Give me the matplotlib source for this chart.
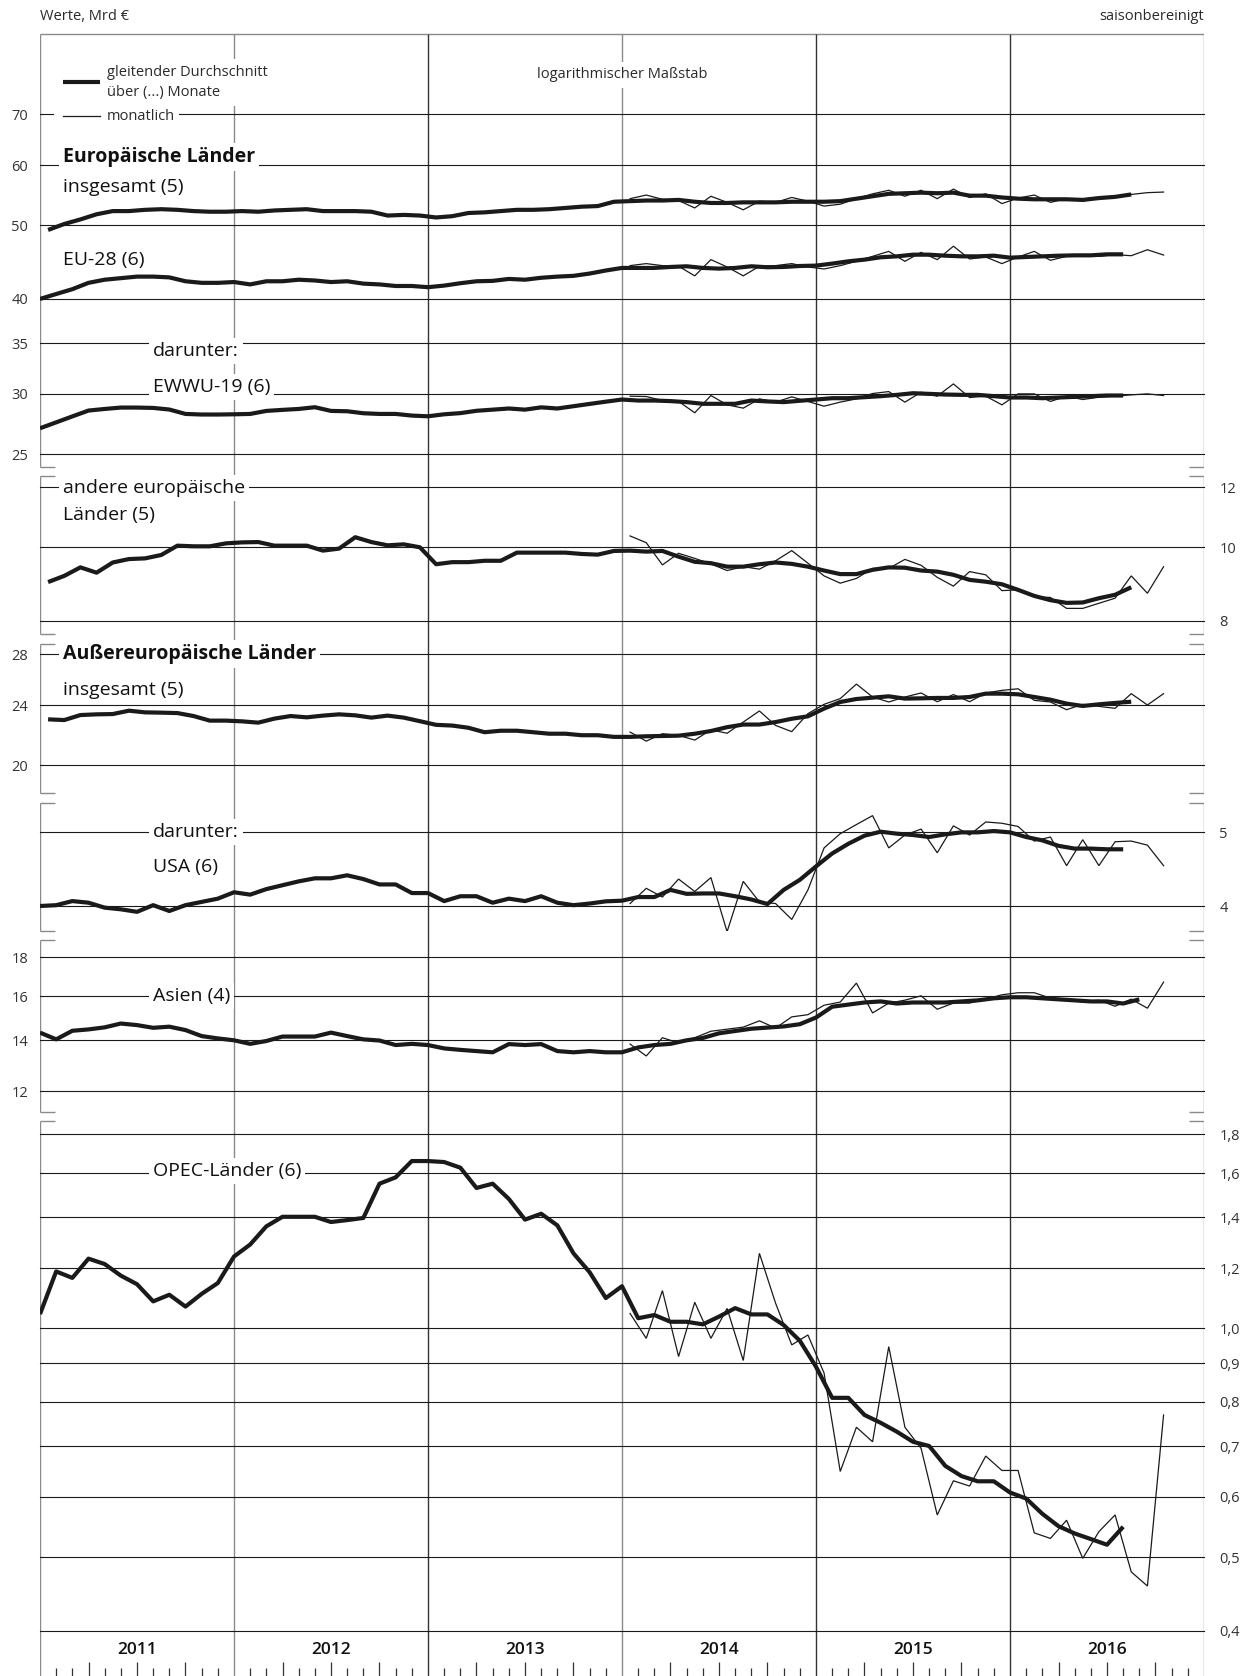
import numpy as np
import matplotlib
matplotlib.use("Agg")
import matplotlib.pyplot as plt
from matplotlib.ticker import NullLocator, FixedLocator, FixedFormatter
from matplotlib.patches import Rectangle

plt.rcParams['font.family'] = ['Open Sans', 'DejaVu Sans']

# ---------------- data (Mrd €) ----------------
years = ['2011', '2012', '2013', '2014', '2015', '2016']

# Europäische Länder insgesamt, gleitender Durchschnitt über 5 Monate (Jan 2011 ...)
eu_ges_ma = [49.3, 50.2, 50.9, 51.7, 52.2, 52.2, 52.4, 52.5, 52.4, 52.2, 52.1, 52.1,
             52.2, 52.1, 52.3, 52.4, 52.5, 52.2, 52.2, 52.2, 52.1, 51.5, 51.6,
             51.5, 51.2, 51.4, 51.9, 52.0, 52.2, 52.4, 52.4, 52.5, 52.7, 52.9, 53.0,
             53.7, 53.8, 53.9, 53.9, 54.0, 53.7, 53.5, 53.5, 53.6, 53.6, 53.6, 53.7,
             53.7, 53.7, 53.8, 54.2, 54.6, 55.0, 55.1, 55.2, 55.1, 55.2, 54.7, 54.7,
             54.4, 54.2, 54.1, 54.1, 54.1, 54.0, 54.3, 54.5, 54.9]
# monatliche Werte Jan 2014 ... Okt 2016
eu_ges_m = [54.2, 54.8, 54.1, 53.9, 52.7, 54.6, 53.6, 52.4, 53.8, 53.6, 54.4, 53.8,
            53.0, 53.3, 54.2, 55.0, 55.6, 54.6, 55.6, 54.2, 55.8, 54.4, 55.0, 53.4,
            54.3, 54.8, 53.6, 54.2, 53.8, 54.3, 54.6, 54.9, 55.2, 55.3]

# EU-28, gleitender Durchschnitt über 6 Monate
eu28_ma = [40.0, 40.6, 41.2, 42.0, 42.4, 42.6, 42.8, 42.8, 42.7, 42.2, 42.0, 42.0,
           42.1, 41.8, 42.2, 42.2, 42.4, 42.3, 42.1, 42.2, 41.9, 41.8, 41.6, 41.6,
           41.45, 41.65, 41.95, 42.2, 42.25, 42.5, 42.4, 42.65, 42.8, 42.9, 43.2, 43.6,
           43.94, 43.94, 43.94, 44.07, 44.16, 43.94, 43.85, 43.94, 44.16, 44.03, 44.07, 44.2,
           44.25, 44.52, 44.83, 45.06, 45.38, 45.51, 45.74, 45.74, 45.6, 45.51, 45.51, 45.6,
           45.33, 45.42, 45.51, 45.6, 45.65, 45.65, 45.79, 45.79]
eu28_m = [44.25, 44.52, 44.25, 44.16, 42.9, 45.06, 44.07, 42.9, 44.16, 44.25, 44.52, 44.07,
          43.8, 44.25, 44.83, 45.51, 46.2, 44.83, 46.06, 45.06, 46.93, 45.15, 45.42, 44.52,
          45.42, 46.2, 44.97, 45.51, 45.51, 45.51, 45.74, 45.6, 46.43, 45.69]

# EWWU-19, gleitender Durchschnitt über 6 Monate
ewwu_ma = [27.03, 27.52, 28.02, 28.52, 28.66, 28.78, 28.78, 28.75, 28.61, 28.23, 28.18, 28.18,
           28.2, 28.23, 28.49, 28.58, 28.66, 28.81, 28.49, 28.46, 28.29, 28.23, 28.23, 28.09,
           28.03, 28.2, 28.3, 28.5, 28.6, 28.7, 28.6, 28.8, 28.7, 28.9, 29.1, 29.3,
           29.49, 29.4, 29.4, 29.35, 29.26, 29.11, 29.11, 29.11, 29.4, 29.32, 29.26, 29.38,
           29.49, 29.61, 29.61, 29.7, 29.79, 29.91, 30.06, 30.0, 29.94, 29.91, 29.91, 29.79,
           29.67, 29.67, 29.61, 29.67, 29.73, 29.79, 29.85, 29.85]
ewwu_m = [29.79, 29.76, 29.4, 29.32, 28.33, 29.85, 29.02, 28.73, 29.55, 29.26, 29.73, 29.32,
          28.9, 29.26, 29.55, 30.03, 30.21, 29.26, 30.15, 29.79, 30.92, 29.67, 29.79, 29.02,
          30.0, 30.0, 29.32, 29.79, 29.49, 29.7, 29.79, 29.91, 30.0, 29.85]

# andere europäische Länder, gleitender Durchschnitt über 5 Monate
andere_ma = [9.0, 9.17, 9.41, 9.26, 9.55, 9.65, 9.67, 9.77, 10.05, 10.03, 10.03, 10.12,
             10.15, 10.16, 10.05, 10.05, 10.05, 9.9, 9.96, 10.31, 10.16, 10.06, 10.09,
             10.0, 9.5, 9.56, 9.56, 9.6, 9.6, 9.84, 9.84, 9.84, 9.84, 9.8, 9.78,
             9.89, 9.9, 9.87, 9.89, 9.72, 9.57, 9.53, 9.43, 9.43, 9.5, 9.55, 9.51,
             9.43, 9.32, 9.22, 9.22, 9.34, 9.41, 9.4, 9.32, 9.29, 9.2, 9.06, 9.01,
             8.94, 8.79, 8.63, 8.52, 8.45, 8.46, 8.57, 8.66, 8.86]
andere_m = [10.35, 10.14, 9.48, 9.82, 9.67, 9.51, 9.32, 9.43, 9.36, 9.6, 9.9, 9.53,
            9.17, 8.97, 9.1, 9.38, 9.38, 9.64, 9.47, 9.13, 8.89, 9.29, 9.2, 8.77,
            8.79, 8.61, 8.59, 8.31, 8.31, 8.44, 8.57, 9.17, 8.7, 9.43]

# Außereuropäische Länder insgesamt, gleitender Durchschnitt über 5 Monate
aus_ma = [22.98, 22.93, 23.28, 23.33, 23.35, 23.59, 23.47, 23.45, 23.42, 23.21, 22.89, 22.89,
          22.84, 22.75, 23.03, 23.21, 23.12, 23.24, 23.33, 23.26, 23.1, 23.24, 23.1,
          22.85, 22.6, 22.55, 22.4, 22.1, 22.2, 22.2, 22.1, 22.0, 22.0, 21.9, 21.9,
          21.79, 21.79, 21.83, 21.85, 21.87, 22.0, 22.18, 22.44, 22.62, 22.62, 22.79, 23.02,
          23.19, 23.74, 24.22, 24.44, 24.54, 24.64, 24.47, 24.49, 24.52, 24.52, 24.59, 24.84,
          24.84, 24.79, 24.59, 24.39, 24.1, 23.93, 24.05, 24.15, 24.24]
aus_m = [22.11, 21.51, 22.0, 21.89, 21.58, 22.26, 22.03, 22.79, 23.57, 22.56, 22.14, 23.38,
         24.05, 24.47, 25.57, 24.59, 24.22, 24.59, 24.89, 24.24, 24.77, 24.24, 24.89, 25.09,
         25.21, 24.34, 24.22, 23.66, 24.05, 23.9, 23.76, 24.84, 24.0, 24.84]

# USA, gleitender Durchschnitt über 6 Monate
usa_ma = [4.0, 4.01, 4.06, 4.04, 3.98, 3.96, 3.93, 4.01, 3.94, 4.01, 4.05, 4.09,
          4.17, 4.14, 4.21, 4.26, 4.31, 4.35, 4.35, 4.39, 4.34, 4.27, 4.27, 4.16,
          4.16, 4.06, 4.12, 4.12, 4.04, 4.09, 4.06, 4.12, 4.04, 4.01, 4.03,
          4.057, 4.065, 4.11, 4.11, 4.2, 4.15, 4.155, 4.155, 4.12, 4.08, 4.024, 4.2,
          4.33, 4.51, 4.69, 4.83, 4.95, 5.01, 4.98, 4.96, 4.93, 4.97, 5.0, 5.0,
          5.02, 5.0, 4.93, 4.88, 4.8, 4.76, 4.76, 4.75, 4.75]
usa_m = [4.03, 4.22, 4.11, 4.34, 4.18, 4.36, 3.7, 4.31, 4.05, 4.03, 3.84, 4.2,
         4.77, 4.98, 5.12, 5.26, 4.77, 4.96, 5.05, 4.7, 5.1, 4.96, 5.16, 5.14,
         5.09, 4.87, 4.93, 4.52, 4.89, 4.52, 4.86, 4.87, 4.81, 4.52]

# Asien, gleitender Durchschnitt über 4 Monate
asien_ma = [14.33, 14.04, 14.41, 14.47, 14.56, 14.73, 14.66, 14.54, 14.59, 14.44, 14.18, 14.08,
            14.0, 13.85, 13.97, 14.16, 14.16, 14.16, 14.33, 14.18, 14.04, 13.99, 13.8, 13.85,
            13.8, 13.66, 13.6, 13.55, 13.5, 13.84, 13.8, 13.84, 13.55, 13.5, 13.55, 13.5,
            13.5, 13.7, 13.8, 13.85, 14.0, 14.1, 14.3, 14.4, 14.5, 14.55, 14.6, 14.7,
            15.0, 15.5, 15.6, 15.7, 15.75, 15.65, 15.7, 15.7, 15.7, 15.75, 15.8, 15.9,
            15.95, 15.95, 15.9, 15.85, 15.8, 15.75, 15.75, 15.65, 15.85]
asien_m = [13.84, 13.35, 14.11, 13.89, 14.11, 14.39, 14.48, 14.57, 14.85, 14.53, 15.03, 15.13,
           15.57, 15.72, 16.65, 15.21, 15.67, 15.81, 16.02, 15.38, 15.67, 15.67, 15.86, 16.07,
           16.17, 16.17, 15.91, 15.86, 15.72, 15.81, 15.52, 15.86, 15.43, 16.7]

# OPEC-Länder, gleitender Durchschnitt über 6 Monate
opec_ma = [1.044, 1.188, 1.165, 1.235, 1.215, 1.173, 1.143, 1.085, 1.107, 1.068, 1.11, 1.147,
           1.243, 1.289, 1.362, 1.402, 1.402, 1.402, 1.38, 1.388, 1.397, 1.55, 1.58, 1.66,
           1.66, 1.655, 1.627, 1.53, 1.55, 1.48, 1.39, 1.415, 1.366, 1.255, 1.185, 1.096,
           1.136, 1.031, 1.041, 1.02, 1.02, 1.012, 1.036, 1.063, 1.043, 1.043, 1.01, 0.963,
           0.89, 0.81, 0.81, 0.769, 0.751, 0.731, 0.709, 0.7, 0.659, 0.639, 0.629, 0.629,
           0.608, 0.597, 0.57, 0.549, 0.537, 0.528, 0.519, 0.548]
opec_m = [1.046, 0.97, 1.121, 0.918, 1.082, 0.97, 1.062, 0.907, 1.255, 1.079, 0.951, 0.98,
          0.873, 0.648, 0.741, 0.709, 0.946, 0.741, 0.695, 0.568, 0.63, 0.62, 0.679, 0.65,
          0.65, 0.538, 0.529, 0.559, 0.498, 0.54, 0.568, 0.478, 0.458, 0.769]

# ---------------- helpers ----------------
def ma_x(values, window):
    # centred moving average: odd window -> month centre, even window -> month boundary
    start = 0.5 if window % 2 else 0.0
    return start + np.arange(len(values))

def monthly_x(values, first_month=36):
    return first_month + 0.5 + np.arange(len(values))

def fmt(v):
    if v >= 2:
        return '%d' % round(v)
    return ('%.1f' % v).replace('.', ',')

# ---------------- layout ----------------
W, H, DPI = 1248, 1676, 100
X0, X1 = 40, 1204
NM = 72
K = 330.0   # pixels per ln-unit (common log scale)
INK = '#1a1a1a'
FRAME = '#8a8a8a'
TXT = '#2a2a2a'

fig = plt.figure(figsize=(W / DPI, H / DPI), dpi=DPI)
fig.patch.set_facecolor('white')

px = fig.add_axes([0, 0, 1, 1], zorder=0)
px.set_xlim(0, W); px.set_ylim(H, 0); px.axis('off')

tl = fig.add_axes([X0 / W, 0, (X1 - X0) / W, 1], zorder=0)
tl.set_xlim(0, NM); tl.set_ylim(H, 0); tl.axis('off')

panels = [
    dict(top=34, bot=467, anchor=(50, 225.3), ticks=[70, 60, 50, 40, 35, 30, 25], side='left',
         series=[(eu_ges_ma, 5, eu_ges_m), (eu28_ma, 6, eu28_m), (ewwu_ma, 6, ewwu_m)]),
    dict(top=476, bot=634, anchor=(10, 547.3), ticks=[12, 10, 8], side='right',
         series=[(andere_ma, 5, andere_m)]),
    dict(top=644, bot=793, anchor=(24, 705.0), ticks=[28, 24, 20], side='left',
         series=[(aus_ma, 5, aus_m)]),
    dict(top=803, bot=931, anchor=(4, 906.0), ticks=[5, 4], side='right',
         series=[(usa_ma, 6, usa_m)]),
    dict(top=940, bot=1112, anchor=(14, 1040.3), ticks=[18, 16, 14, 12], side='left',
         series=[(asien_ma, 4, asien_m)]),
    dict(top=1121, bot=1633, anchor=(1.0, 1328.3),
         ticks=[1.8, 1.6, 1.4, 1.2, 1.0, 0.9, 0.8, 0.7, 0.6, 0.5, 0.4], side='right',
         series=[(opec_ma, 6, opec_m)]),
]

labels = [
    [("Europäische Länder", 63, 157, 'bold'), ("insgesamt (5)", 63, 187, 'normal'),
     ("EU-28 (6)", 63, 260, 'normal'), ("darunter:", 153, 351, 'normal'),
     ("EWWU-19 (6)", 153, 387, 'normal')],
    [("andere europäische", 63, 488, 'normal'), ("Länder (5)", 63, 515, 'normal')],
    [("Außereuropäische Länder", 63, 654, 'bold'), ("insgesamt (5)", 63, 690, 'normal')],
    [("darunter:", 153, 832, 'normal'), ("USA (6)", 153, 867, 'normal')],
    [("Asien (4)", 153, 996, 'normal')],
    [("OPEC-Länder (6)", 153, 1171, 'normal')],
]

# ---- frame, brackets, year lines, month ticks ----
tick_len = 15.0 * NM / (X1 - X0)
tl.hlines(34, 0, NM, color=FRAME, lw=1.0)
last = len(panels) - 1
for i, p in enumerate(panels):
    yb = H if i == last else p['bot']
    tl.vlines([0, NM], p['top'], yb, color=FRAME, lw=1.0)
    if i > 0:
        tl.hlines(p['top'], 0, tick_len, color=FRAME, lw=1.0)
        tl.hlines(p['top'], NM - tick_len, NM, color=FRAME, lw=1.0)
    if i < last:
        tl.hlines(p['bot'], 0, tick_len, color=FRAME, lw=1.0)
        tl.hlines(p['bot'], NM - tick_len, NM, color=FRAME, lw=1.0)

year_cols = ['#8a8a8a', '#333333', '#8a8a8a', '#333333', '#333333']
for j, c in enumerate(year_cols):
    tl.vlines(12 * (j + 1), 34, H, color=c, lw=1.0)
months = np.arange(NM + 1)
tl.vlines(months[months % 3 != 0], 1668, H, color='#333333', lw=0.9)
tl.vlines(months[(months % 3 == 0) & (months % 12 != 0)], 1662, H, color='#333333', lw=0.9)
for j, y in enumerate(years):
    tl.text(12 * j + 6, 1650, y, ha='center', va='center', fontsize=12.5, color='#111111',
            fontweight='semibold')

# ---- top texts ----
px.text(X0, 17, "Werte, Mrd €", ha='left', va='center', fontsize=10.5, color=TXT)
px.text(X1, 17, "saisonbereinigt", ha='right', va='center', fontsize=10.5, color=TXT)

box = dict(facecolor='white', edgecolor='none', pad=3.0)

axes = []
for i, p in enumerate(panels):
    ax = fig.add_axes([X0 / W, 1 - p['bot'] / H, (X1 - X0) / W, (p['bot'] - p['top']) / H],
                      zorder=1)
    ax.patch.set_alpha(0)
    for s in ax.spines.values():
        s.set_visible(False)
    ax.set_yscale('log')
    a, ay = p['anchor']
    ax.set_ylim(a * np.exp((ay - p['bot']) / K), a * np.exp((ay - p['top']) / K))
    ax.set_xlim(0, NM)
    ax.set_xticks([])
    ax.yaxis.set_major_locator(FixedLocator(p['ticks']))
    ax.yaxis.set_minor_locator(NullLocator())
    ax.yaxis.set_major_formatter(FixedFormatter([fmt(t) for t in p['ticks']]))
    if p['side'] == 'right':
        ax.yaxis.tick_right()
        ax.tick_params(axis='y', length=0, pad=11, labelsize=10.5, labelcolor='#333333')
    else:
        ax.tick_params(axis='y', length=0, pad=8.5, labelsize=10.5, labelcolor='#333333')
    for t in p['ticks']:
        ax.axhline(t, color=INK, lw=0.8, zorder=1, clip_on=False)
    for ma, win, mon in p['series']:
        ax.plot(monthly_x(mon), mon, color=INK, lw=0.9, zorder=4, solid_joinstyle='miter')
        ax.plot(ma_x(ma, win), ma, color=INK, lw=3.0, zorder=5,
                solid_joinstyle='round', solid_capstyle='butt')
    for txt, x, y, wgt in labels[i]:
        ax.text(x, y, txt, transform=px.transData, ha='left', va='center', fontsize=14,
                fontweight=wgt, color='#111111', bbox=box, zorder=3)
    axes.append(ax)

# ---- legend & scale note (in first panel, above grid lines) ----
ax0 = axes[0]
ax0.add_patch(Rectangle((54, 60), 52, 64, transform=px.transData, facecolor='white',
                        edgecolor='none', zorder=2))
ax0.plot([63, 100], [81.7, 81.7], transform=px.transData, color=INK, lw=3.0, zorder=5,
         solid_capstyle='butt')
ax0.plot([63, 100], [116.5, 116.5], transform=px.transData, color=INK, lw=0.9, zorder=5)
ax0.text(107, 82.5, "gleitender Durchschnitt\nüber (...) Monate", transform=px.transData,
         ha='left', va='center', fontsize=10.5, linespacing=1.45, color=TXT,
         bbox=dict(facecolor='white', edgecolor='none', pad=4.0), zorder=3)
ax0.text(107, 116.5, "monatlich", transform=px.transData, ha='left', va='center',
         fontsize=10.5, color=TXT, bbox=dict(facecolor='white', edgecolor='none', pad=3.0),
         zorder=3)
ax0.text(622, 75, "logarithmischer Maßstab", transform=px.transData, ha='center', va='center',
         fontsize=10.5, color=TXT, bbox=dict(facecolor='white', edgecolor='none', pad=4.0),
         zorder=3)

fig.savefig('out.png', dpi=DPI, facecolor='white')
